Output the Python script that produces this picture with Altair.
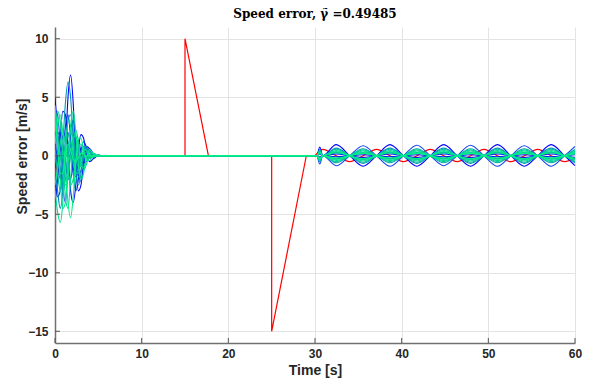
import altair as alt
import pandas as pd

# ---------------- data ----------------
T_EARLY = [0, 0.3, 0.6, 0.9, 1.2, 1.5, 1.8, 2.1, 2.4, 2.7, 3.0, 3.3, 3.6, 4.0, 4.5, 5.0, 5.5, 6.0]

EARLY = [
    [5.0, 2.0, -1.5, -3.0, 0.5, 5.0, 6.9, 4.5, -0.5, -3.0, -2.5, -0.5, 0.8, 0.6, -0.2, 0.05, 0, 0],
    [4.0, 3.5, 1.0, -2.5, -4.0, -1.0, 2.0, 3.0, 1.0, -1.5, -2.2, -1.0, 0.5, 0.6, 0.1, -0.05, 0, 0],
    [-4.0, -2.0, 1.5, 3.8, 3.5, 0.5, -3.0, -4.0, -2.5, 0.5, 1.8, 1.5, 0.2, -0.5, -0.2, 0.05, 0, 0],
    [-1.5, 0.5, 2.0, 1.5, -0.5, -2.0, -2.0, -0.5, 1.0, 1.3, 0.3, -0.6, -0.5, 0.1, 0.1, 0, 0, 0],
    [-2.0, -3.5, -3.0, 0.0, 2.5, 3.5, 1.5, -1.5, -3.0, -2.0, 0.3, 1.2, 0.8, -0.2, -0.1, 0, 0, 0],
    [1.5, -0.5, -2.0, -1.0, 1.0, 2.0, 0.8, -1.0, -1.8, -0.8, 0.4, 0.8, 0.3, -0.2, 0, 0, 0, 0],
    [0.0, 2.0, 1.5, -0.5, -2.0, -1.5, 0.2, 1.2, 0.8, -0.3, -0.7, -0.3, 0.2, 0.1, 0, 0, 0, 0],
    [-1.0, -3.0, -4.5, -3.0, 0.5, 3.0, 3.5, 2.0, -0.5, -1.8, -1.2, 0.0, 0.6, 0.3, -0.1, 0, 0, 0],
    [3.5, 1.0, -1.5, 1.0, 4.5, 6.3, 5.0, 1.5, -1.5, -2.5, -1.5, 0.2, 0.8, 0.4, -0.1, 0, 0, 0],
    [4.0, 2.0, -1.0, -3.0, -2.0, 0.5, 2.0, 1.5, 0.0, -1.0, -0.8, 0.0, 0.3, 0.1, 0, 0, 0, 0],
    [0.5, -1.5, -3.0, -2.0, 0.5, 1.8, 1.0, -0.5, -1.5, -1.0, 0.2, 0.8, 0.5, -0.1, -0.1, 0, 0, 0],
    [2.5, 1.5, 0.0, -1.5, -2.5, -2.0, 0.0, 1.5, 1.7, 0.5, -0.8, -1.0, -0.3, 0.3, 0.1, 0, 0, 0],
    [2.0, 3.8, 3.0, 0.0, -3.5, -4.5, -2.0, 1.0, 2.2, 1.2, -0.5, -1.2, -0.8, 0.1, 0.2, 0, 0, 0],
    [-3.0, -4.8, -5.7, -4.0, 0.5, 3.0, 2.5, 0.5, -1.5, -1.5, -0.5, 0.5, 0.5, 0.0, -0.1, 0, 0, 0],
    [-2.5, -1.0, 1.0, 2.0, 1.0, -1.0, -2.5, -2.0, -0.5, 0.8, 1.0, 0.3, -0.3, -0.2, 0, 0, 0, 0],
    [3.0, 1.0, -2.0, -4.5, -4.0, -1.0, 2.5, 3.8, 2.0, -0.8, -2.0, -1.5, -0.3, 0.5, 0.1, 0, 0, 0],
    [1.0, 2.5, 3.5, 2.0, -1.0, -4.0, -5.3, -3.5, -0.5, 1.5, 1.5, 0.5, -0.4, -0.4, 0.0, 0.05, 0, 0],
    [4.3, 1.0, -1.5, -1.5, 0.0, 1.0, 0.5, -0.3, -0.5, -0.2, 0.2, 0.2, 0, 0, 0, 0, 0, 0],
]

# late oscillation: all curves pass through zero at the nodes
T_NODES = [30.2, 30.9, 34.0, 37.1, 40.2, 43.3, 46.4, 49.5, 52.6, 55.7, 58.8]
T_PEAKS = [30.55, 32.45, 35.55, 38.65, 41.75, 44.85, 47.95, 51.05, 54.15, 57.25, 60.0]

LATE = [
    [0.75, 0.95, -0.9, 0.95, -0.9, 0.95, -0.9, 0.95, -0.9, 0.95, -0.85],
    [-0.7, -0.85, 0.85, -0.9, 0.9, -0.85, 0.9, -0.9, 0.85, -0.9, 0.8],
    [0.15, 0.15, -0.15, 0.15, -0.15, 0.15, -0.15, 0.15, -0.15, 0.15, -0.15],
    [-0.1, -0.08, 0.08, -0.08, 0.08, -0.08, 0.08, -0.08, 0.08, -0.08, 0.08],
    [0.3, 0.3, -0.3, 0.3, -0.3, 0.3, -0.3, 0.3, -0.3, 0.3, -0.3],
    [-0.3, -0.28, 0.28, -0.28, 0.28, -0.28, 0.28, -0.28, 0.28, -0.28, 0.25],
    [0.25, 0.25, -0.25, 0.25, -0.25, 0.25, -0.25, 0.25, -0.25, 0.25, -0.22],
    [-0.25, -0.22, 0.22, -0.22, 0.22, -0.22, 0.22, -0.22, 0.22, -0.22, 0.2],
    [0.55, 0.65, -0.65, 0.65, -0.65, 0.65, -0.65, 0.65, -0.65, 0.65, -0.6],
    [-0.5, -0.6, 0.6, -0.6, 0.6, -0.6, 0.6, -0.6, 0.6, -0.6, 0.55],
    [0.45, 0.55, -0.55, 0.55, -0.55, 0.55, -0.55, 0.55, -0.55, 0.55, -0.5],
    [-0.45, -0.5, 0.5, -0.5, 0.5, -0.5, 0.5, -0.5, 0.5, -0.5, 0.45],
    [0.4, 0.45, -0.45, 0.45, -0.45, 0.45, -0.45, 0.45, -0.45, 0.45, -0.4],
    [-0.35, -0.4, 0.4, -0.4, 0.4, -0.4, 0.4, -0.4, 0.4, -0.4, 0.38],
    [0.3, 0.35, -0.35, 0.35, -0.35, 0.35, -0.35, 0.35, -0.35, 0.35, -0.32],
    [-0.3, -0.3, 0.3, -0.3, 0.3, -0.3, 0.3, -0.3, 0.3, -0.3, 0.28],
    [0.25, 0.25, -0.25, 0.25, -0.25, 0.25, -0.25, 0.25, -0.25, 0.25, -0.22],
    [-0.2, -0.2, 0.2, -0.2, 0.2, -0.2, 0.2, -0.2, 0.2, -0.2, 0.18],
]

# red reference error curve
RED_T = [0, 0.3, 15.0, 15.0, 17.7, 25.0, 25.0, 29.0, 30.0]
RED_V = [-2.3, 0, 0, 10.0, 0, 0, -15.0, 0, 0]
RED_LATE_T = [30.0, 30.9, 32.45, 34.0, 35.55, 37.1, 38.65, 40.2, 41.75, 43.3, 44.85,
              46.4, 47.95, 49.5, 51.05, 52.6, 54.15, 55.7, 57.25, 58.8, 60.0]
RED_LATE_V = [0, 0.55, 0, -0.5, 0, 0.55, 0, -0.5, 0, 0.55, 0,
              -0.5, 0, 0.55, 0, -0.5, 0, 0.55, 0, -0.5, -0.17]

X_TICKS = [0, 10, 20, 30, 40, 50, 60]
Y_TICKS = [-15, -10, -5, 0, 5, 10]

SERIES = [f"a{i:02d}" for i in range(len(EARLY))]
COLORS = ["#0000FF", "#1848F0", "#0010F0", "#0020E8", "#0035E0", "#0050D8",
          "#0068CC", "#0080C0", "#0098B2", "#00A8A8", "#00B8A0", "#00C89A",
          "#00D494", "#00DC90", "#00E48C", "#00EA8A", "#00F086", "#00F284"]
WIDTHS = [1.1] * 17 + [2.6]

# ---------------- tables ----------------
rows = []
for i, (early, late) in enumerate(zip(EARLY, LATE)):
    pts = list(zip(T_EARLY, early))
    pts += [(t, 0.0) for t in T_NODES]
    pts += list(zip(T_PEAKS, late))
    pts.sort(key=lambda p: p[0])
    for k, (t, v) in enumerate(pts):
        rows.append({"series": SERIES[i], "t": t, "v": v, "k": k})
lines_df = pd.DataFrame(rows)

red_df = pd.DataFrame({"t": RED_T, "v": RED_V, "k": list(range(len(RED_T)))})
red_late_df = pd.DataFrame({"t": RED_LATE_T, "v": RED_LATE_V, "k": list(range(len(RED_LATE_T)))})
xt_df = pd.DataFrame({"t": X_TICKS})
yt_df = pd.DataFrame({"v": Y_TICKS})

xscale = alt.Scale(domain=[0, 60], nice=False, zero=False)
yscale = alt.Scale(domain=[-16, 11], nice=False, zero=False)

xaxis = alt.Axis(values=X_TICKS, title="Time [s]", grid=True, tickSize=0, labelFlush=False,
                 labelPadding=5, titlePadding=4, format="d")
yaxis = alt.Axis(values=Y_TICKS, title="Speed error [m/s]", grid=True, tickSize=0, labelFlush=False,
                 labelPadding=7, format="d",
                 titleX=-33, titleY=129, titleAlign="center", titleBaseline="middle", titleAngle=270)

X = alt.X("t:Q", scale=xscale, axis=xaxis)
Y = alt.Y("v:Q", scale=yscale, axis=yaxis)

red = alt.Chart(red_df).mark_line(color="#FF0000", strokeWidth=1.2, clip=True).encode(
    x=X, y=Y, order=alt.Order("k:Q"))
red_late = alt.Chart(red_late_df).mark_line(color="#FF0000", strokeWidth=1.2,
                                            interpolate="monotone", clip=True).encode(
    x=X, y=Y, order=alt.Order("k:Q"))
lines = alt.Chart(lines_df).mark_line(interpolate="monotone", clip=True).encode(
    x=X, y=Y,
    color=alt.Color("series:N", scale=alt.Scale(domain=SERIES, range=COLORS), legend=None),
    strokeWidth=alt.StrokeWidth("series:N", scale=alt.Scale(domain=SERIES, range=WIDTHS), legend=None),
    order=alt.Order("k:Q"))

xticks = alt.Chart(xt_df).mark_rule(color="#555555", strokeWidth=1).encode(
    x=alt.X("t:Q", scale=xscale, axis=xaxis), y=alt.value(316), y2=alt.value(311))
yticks = alt.Chart(yt_df).mark_rule(color="#555555", strokeWidth=1).encode(
    y=alt.Y("v:Q", scale=yscale, axis=yaxis), x=alt.value(0), x2=alt.value(5))

chart = alt.layer(red, red_late, lines, xticks, yticks).properties(
    width=520, height=316,
    title=alt.TitleParams("Speed error, γ̃ =0.49485", font="DejaVu Serif", fontSize=12,
                          fontWeight="bold", color="#000000", anchor="middle", offset=6),
    autosize=alt.AutoSizeParams(type="none"),
    padding={"left": 47, "top": 19, "right": 10, "bottom": 42},
).configure_view(stroke=None).configure_axis(
    labelFont="Liberation Sans", labelFontSize=12, labelFontWeight="bold", labelColor="#262626",
    titleFont="Liberation Sans", titleFontSize=14, titleFontWeight="bold", titleColor="#262626",
    domainColor="#707070", domainWidth=1.5, gridColor="#E3E3E3", gridWidth=1,
)

chart.save("out.html", embed_options={"renderer": "svg", "actions": False})
